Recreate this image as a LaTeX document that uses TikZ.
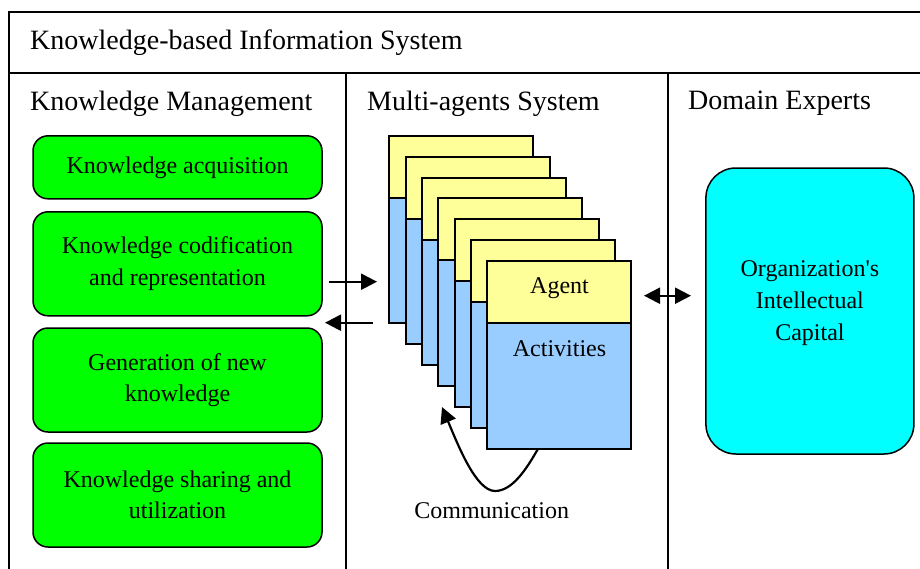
\documentclass[tikz,border=0pt]{standalone}
\usepackage{fontspec}
\setmainfont{Liberation Serif}
\usetikzlibrary{arrows.meta,calc}
\definecolor{kgreen}{HTML}{00FF00}
\definecolor{kyellow}{HTML}{FFFF99}
\definecolor{kblue}{HTML}{99CCFF}
\definecolor{kcyan}{HTML}{00FFFF}
\tikzset{
  frame/.style={line width=1.5pt, draw=black},
  headtext/.style={inner sep=0pt, anchor=west, font=\fontsize{28pt}{34pt}\selectfont},
  bodytext/.style={inner sep=0pt, align=center, font=\fontsize{24pt}{32pt}\selectfont},
  greenbox/.style={draw=black, line width=1.5pt, fill=kgreen, rounded corners=15pt,
    minimum width=289pt, outer sep=0pt, align=center, inner sep=0pt,
    font=\fontsize{24pt}{31.5pt}\selectfont},
  agenttop/.style={draw=black, line width=2pt, fill=kyellow, minimum width=144pt,
    minimum height=62pt, outer sep=0pt, inner sep=0pt, anchor=north west},
  agentbot/.style={draw=black, line width=2pt, fill=kblue, minimum width=144pt,
    minimum height=125.5pt, outer sep=0pt, inner sep=0pt, anchor=north west},
  capbox/.style={draw=black, line width=1.5pt, fill=kcyan, rounded corners=30pt,
    minimum width=208pt, minimum height=286pt, outer sep=0pt},
  conn/.style={line width=2.2pt, draw=black}
}
\begin{document}
\begin{tikzpicture}[x=1pt, y=-1pt]
\useasboundingbox (0,0) rectangle (920,568);
\clip (0,0) rectangle (920,568);
\fill[white] (0,0) rectangle (920,568);

% frame
\draw[frame] (9,590) -- (9,12) -- (940,12);
\draw[frame] (9,73) -- (940,73);
\draw[frame] (346,73) -- (346,590);
\draw[frame] (668,73) -- (668,590);

% headings
\node[headtext] (title) at (30,42.5) {Knowledge-based Information System};
\node[headtext] (hkm) at (30,103.5) {Knowledge Management};
\node[headtext] (hmas) at (367,103.5) {Multi-agents System};
\node[headtext] (hde) at (688,103.5) {Domain Experts};

% knowledge management boxes
\node[greenbox, minimum height=63pt] (kb1) at (177.5,167.3) {Knowledge acquisition};
\node[greenbox, minimum height=104pt] (kb2) at (177.5,263.8) {Knowledge codification\\and representation};
\node[greenbox, minimum height=104pt] (kb3) at (177.5,380) {Generation of new\\knowledge};
\node[greenbox, minimum height=104pt] (kb4) at (177.5,495) {Knowledge sharing and\\utilization};

% agent cards
\foreach \i in {0,...,6} {
  \pgfmathsetmacro\cx{389.3+16.35*\i}
  \pgfmathsetmacro\cy{135.7+20.9*\i}
  \node[agenttop] (top\i) at (\cx,\cy) {};
  \node[agentbot] (bot\i) at (top\i.south west) {};
}
\node[bodytext] (agentlbl) at (559.5,288) {Agent};
\node[bodytext] (actlbl) at (559.5,349) {Activities};

% domain experts
\node[capbox] (cap) at (809.9,311) {};
\node[bodytext] (captext) at (809.9,303) {Organization\textquotesingle s\\Intellectual\\Capital};

% arrows between KM and MAS
\coordinate (r1s) at (329,281.7);
\coordinate (r1e) at (377,281.7);
\coordinate (l1s) at (373,322.7);
\coordinate (l1e) at (325,322.7);
\draw[conn, -{Triangle[length=16pt, width=16pt]}] (r1s) -- (r1e);
\draw[conn, -{Triangle[length=16pt, width=16pt]}] (l1s) -- (l1e);

% double arrow MAS - experts
\coordinate (d1) at (644,295.7);
\coordinate (d2) at (691,295.7);
\draw[conn, {Triangle[length=16pt, width=16pt]}-{Triangle[length=16pt, width=16pt]}] (d1) -- (d2);

% communication
\coordinate (ctip) at (442,407);
\draw[conn, -{Triangle[length=16pt, width=16pt]}]
  ($(bot6.south west)+(50.7,0)$) .. controls (526,470) and (512,491) .. (495,491)
  .. controls (476,491) and (458,445) .. (ctip);
\node[bodytext] (comm) at (491.7,511) {Communication};
\end{tikzpicture}
\end{document}
